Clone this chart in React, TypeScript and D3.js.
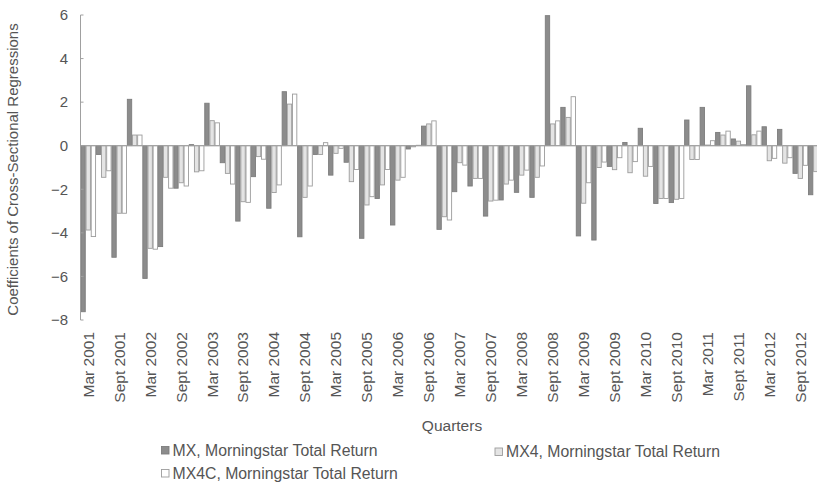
import React from "react";
import * as d3 from "d3";

const quarters = [
  "Mar 2001","Jun 2001","Sept 2001","Dec 2001",
  "Mar 2002","Jun 2002","Sept 2002","Dec 2002",
  "Mar 2003","Jun 2003","Sept 2003","Dec 2003",
  "Mar 2004","Jun 2004","Sept 2004","Dec 2004",
  "Mar 2005","Jun 2005","Sept 2005","Dec 2005",
  "Mar 2006","Jun 2006","Sept 2006","Dec 2006",
  "Mar 2007","Jun 2007","Sept 2007","Dec 2007",
  "Mar 2008","Jun 2008","Sept 2008","Dec 2008",
  "Mar 2009","Jun 2009","Sept 2009","Dec 2009",
  "Mar 2010","Jun 2010","Sept 2010","Dec 2010",
  "Mar 2011","Jun 2011","Sept 2011","Dec 2011",
  "Mar 2012","Jun 2012","Sept 2012","Dec 2012",
];

const tickLabels = quarters.filter((q) => q.startsWith("Mar") || q.startsWith("Sept"));

const mx = [-7.62, -0.4, -5.12, 2.13, -6.09, -4.63, -1.95, 0.05, 1.95, -0.78, -3.46, -1.42, -2.87, 2.48, -4.18, -0.4, -1.35, -0.76, -4.25, -2.42, -3.64, -0.15, 0.9, -3.84, -2.11, -1.85, -3.23, -2.49, -2.14, -2.37, 5.97, 1.76, -4.14, -4.33, -0.95, 0.15, 0.8, -2.65, -2.61, 1.18, 1.76, 0.61, 0.31, 2.75, 0.87, 0.75, -1.27, -2.25];
const mx4 = [-3.87, -1.45, -3.1, 0.49, -4.71, -1.45, -1.7, -1.2, 1.15, -1.27, -2.57, -0.5, -2.15, 1.91, -2.37, -0.4, -0.35, -1.65, -2.72, -1.8, -1.58, -0.05, 1.0, -3.26, -0.78, -1.5, -2.54, -1.76, -1.35, -1.45, 1.0, 1.3, -2.64, -1.0, -1.1, -1.24, -1.4, -2.42, -2.46, -0.63, 0.03, 0.49, 0.21, 0.5, -0.69, -0.8, -1.5, -1.19];
const mx4c = [-4.17, -1.15, -3.1, 0.49, -4.75, -1.95, -1.85, -1.15, 1.05, -1.76, -2.6, -0.62, -1.8, 2.37, -1.85, 0.14, -0.12, -1.09, -2.34, -1.09, -1.45, 0.02, 1.14, -3.41, -0.89, -1.5, -2.5, -1.58, -1.12, -0.93, 1.14, 2.25, -1.7, -0.75, -0.55, -0.73, -0.95, -2.42, -2.42, -0.63, 0.23, 0.67, 0.05, 0.67, -0.58, -0.55, -0.9, -1.0];

const seriesNames = ["MX, Morningstar Total Return", "MX4, Morningstar Total Return", "MX4C, Morningstar Total Return"];
const yTicks = [6, 4, 2, 0, -2, -4, -6, -8];

const series = [
  { key: "mx", name: seriesNames[0], values: mx, fill: "#8c8c8c", stroke: "#7d7d7d" },
  { key: "mx4", name: seriesNames[1], values: mx4, fill: "#e4e4e4", stroke: "#9c9c9c" },
  { key: "mx4c", name: seriesNames[2], values: mx4c, fill: "#ffffff", stroke: "#9c9c9c" },
];

const W = 817;
const H = 483;
const FONT = "'Liberation Sans', Arial, Helvetica, sans-serif";
const TEXT = "#555";
const AXIS = "#a0a0a0";

export default function App() {
  const x0 = 80.5;
  const step = 15.48;
  const x = d3.scaleBand<string>().domain(quarters).range([x0, x0 + step * quarters.length]).paddingInner(0).paddingOuter(0);
  const xs = d3.scaleBand<string>().domain(series.map((s) => s.key)).range([0, x.bandwidth()]).padding(0);
  const y = d3.scaleLinear().domain([-8, 6]).range([320, 15]);
  const fmt = (v: number) => (v < 0 ? "\u2212" + Math.abs(v) : String(v));

  return (
    <svg width={W} height={H} style={{ position: "absolute", left: 0, top: 0, background: "#fff" }} fontFamily={FONT}>
      {series.map((s) =>
        s.values.map((v, i) => {
          const q = quarters[i];
          const bx = (x(q) as number) + (xs(s.key) as number);
          const top = y(Math.max(0, v));
          const h = Math.abs(y(v) - y(0));
          return (
            <rect key={s.key + i} x={bx + 0.4} y={top} width={xs.bandwidth() - 0.8} height={h}
              fill={s.fill} stroke={s.stroke} strokeWidth={0.9} />
          );
        })
      )}
      <line x1={x0} x2={W} y1={y(0)} y2={y(0)} stroke={AXIS} strokeWidth={1} />
      <line x1={x0} x2={x0} y1={y(6)} y2={y(-8)} stroke={AXIS} strokeWidth={1} />
      {yTicks.map((t) => (
        <g key={t}>
          <line x1={x0} x2={x0 + 3} y1={y(t)} y2={y(t)} stroke={AXIS} strokeWidth={1} />
          <text x={68} y={y(t)} dy="0.35em" textAnchor="end" fontSize={15} fill={TEXT}>{fmt(t)}</text>
        </g>
      ))}
      <text transform={`translate(18,${(y(6) + y(-8)) / 2 + 2}) rotate(-90)`} textAnchor="middle" fontSize={15} fill={TEXT}>
        Coefficients of Cross-Sectional Regressions
      </text>
      {tickLabels.map((q) => {
        const cx = (x(q) as number) + x.bandwidth() / 2;
        return (
          <text key={q} transform={`translate(${cx},332) rotate(-90)`} dy="0.35em" textAnchor="end" fontSize={15.5} fill={TEXT}>
            {q}
          </text>
        );
      })}
      <text x={452} y={431} textAnchor="middle" fontSize={15.5} fill={TEXT}>Quarters</text>
      {[
        { s: series[0], lx: 161.5, ly: 450 },
        { s: series[1], lx: 495, ly: 451.5 },
        { s: series[2], lx: 161.5, ly: 473 },
      ].map(({ s, lx, ly }) => (
        <g key={s.key}>
          <rect x={lx} y={ly - 3.5} width={7.5} height={7.5} fill={s.fill} stroke={s.stroke} strokeWidth={0.9} />
          <text x={lx + 11} y={ly} dy="0.35em" fontSize={15.8} fill={TEXT}>{s.name}</text>
        </g>
      ))}
    </svg>
  );
}
